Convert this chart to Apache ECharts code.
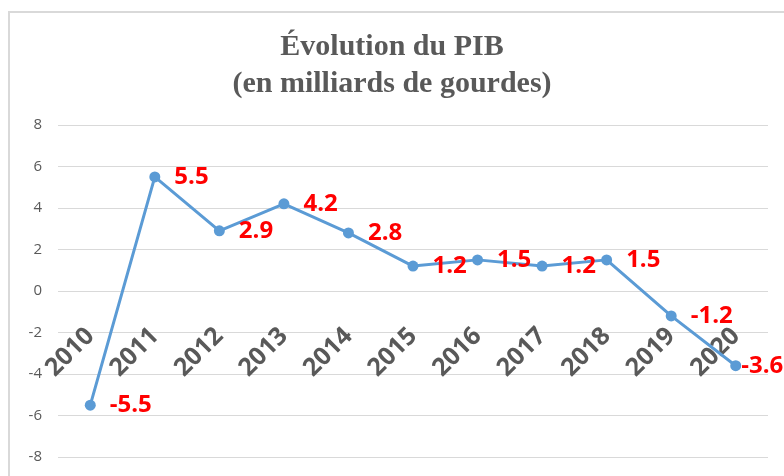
<!DOCTYPE html>
<html>
<head>
<meta charset="utf-8">
<script src="https://cdn.jsdelivr.net/npm/echarts@6/dist/echarts.min.js"></script>
<style>
  html, body { margin: 0; padding: 0; background: #fff; }
  #chart { width: 784px; height: 476px; }
</style>
</head>
<body>
<div id="chart"></div>
<script>
// données du graphique
var years = ['2010', '2011', '2012', '2013', '2014', '2015', '2016', '2017', '2018', '2019', '2020'];
var pib = [-5.5, 5.5, 2.9, 4.2, 2.8, 1.2, 1.5, 1.2, 1.5, -1.2, -3.6];
var titleLines = ['Évolution du PIB', '(en milliards de gourdes)'];

var myChart = echarts.init(document.getElementById('chart'));

// dernier point : étiquette collée au marqueur (bord droit)
var seriesData = pib.map(function (v, i) {
    if (i === pib.length - 1) {
        return { value: v, label: { distance: 0 } };
    }
    return v;
});

var option = {
    backgroundColor: '#fff',
    animation: false,
    graphic: [{
        type: 'rect',
        shape: { x: 9, y: 12, width: 800, height: 480 },
        style: { fill: 'none', stroke: '#D9D9D9', lineWidth: 2 },
        silent: true
    }],
    title: {
        text: titleLines.join('\n'),
        left: 'center',
        top: 24,
        textStyle: {
            fontFamily: '"Liberation Serif", serif',
            fontWeight: 'bold',
            fontSize: 30,
            lineHeight: 37,
            color: '#595959'
        }
    },
    grid: {
        left: 58,
        right: 16,
        top: 125,
        bottom: 19,
        containLabel: false,
        outerBoundsMode: 'none'
    },
    xAxis: {
        type: 'category',
        data: years,
        boundaryGap: true,
        offset: -166,   // axe des catégories placé au niveau de 0
        axisLine: { show: false, onZero: false },
        axisTick: { show: false },
        axisLabel: {
            rotate: 45,
            margin: 41,
            fontFamily: '"Open Sans", sans-serif',
            fontWeight: 'bold',
            fontSize: 25,
            color: '#595959'
        }
    },
    yAxis: {
        type: 'value',
        min: -8,
        max: 8,
        interval: 2,
        axisLine: { show: false },
        axisTick: { show: false },
        axisLabel: {
            margin: 16,
            fontFamily: '"Open Sans", sans-serif',
            fontSize: 15,
            color: '#595959'
        },
        splitLine: { lineStyle: { color: '#D9D9D9', width: 1 } }
    },
    series: [{
        name: 'PIB',
        type: 'line',
        data: seriesData,
        symbol: 'circle',
        symbolSize: 11,
        lineStyle: { color: '#5B9BD5', width: 3 },
        itemStyle: { color: '#5B9BD5' },
        label: {
            show: true,
            position: 'right',
            distance: 14,
            fontFamily: '"Open Sans", sans-serif',
            fontWeight: 'bold',
            fontSize: 24,
            color: '#FF0000'
        }
    }]
};
myChart.setOption(option);
</script>
</body>
</html>
